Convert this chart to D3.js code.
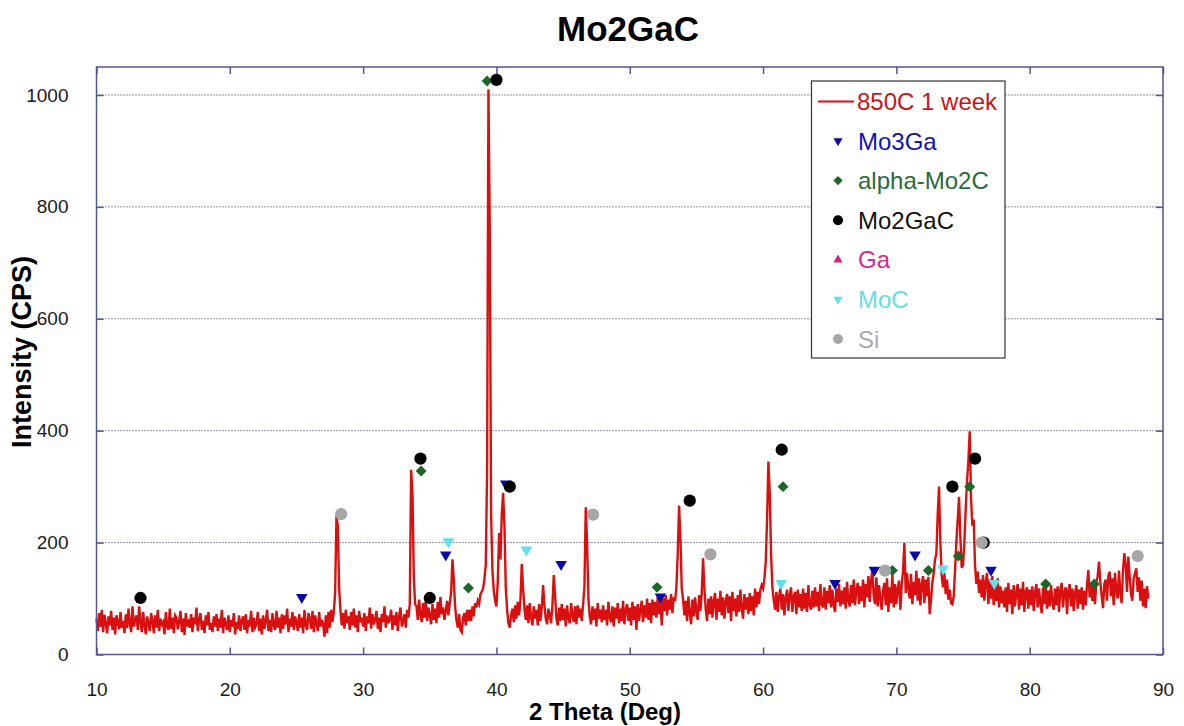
<!DOCTYPE html>
<html>
<head>
<meta charset="utf-8">
<script src="https://cdn.jsdelivr.net/npm/d3@7"></script>
<style>
  body { margin: 0; background: #fff; }
  text { font-family: "Liberation Sans", Arial, sans-serif; }
</style>
</head>
<body>
<svg width="1184" height="726"></svg>
<script>
// XRD scan, 2 theta from 10.0 deg in 0.1 deg steps (one row = one degree)
const thetaStart = 10, thetaStep = 0.1;
const cps = [
  64,42,74,50,80,40,71,56,38,68,
  52,78,44,66,36,70,58,45,76,48,
  60,38,72,47,82,55,40,86,50,62,
  70,44,86,58,40,76,52,36,68,56,
  42,74,60,38,70,48,80,42,64,54,
  58,36,76,50,44,82,46,66,38,70,
  66,45,60,78,40,64,35,74,50,58,
  48,72,40,66,54,84,42,62,74,44,
  60,38,70,52,76,44,56,40,68,50,
  72,42,64,48,80,38,66,54,44,70,
  40,62,50,74,36,58,46,70,42,60,
  68,44,72,38,62,50,78,40,66,48,
  54,76,42,64,36,70,46,60,80,42,
  62,40,74,52,44,78,48,66,38,72,
  46,70,54,82,40,64,50,76,44,68,
  58,42,72,48,66,38,80,52,44,74,
  64,46,78,40,70,56,42,76,50,62,
  54,32,70,38,76,48,80,58,76,110,
  247,230,120,78,52,74,46,80,56,68,
  44,76,52,82,48,70,40,78,58,66,
  50,74,42,68,56,84,46,72,54,62,
  78,46,66,40,72,58,86,48,70,56,
  64,80,44,70,52,76,42,68,84,50,
  58,72,48,80,66,90,330,290,140,90,
  86,62,98,70,58,92,66,100,60,84,
  70,54,90,62,82,56,94,66,103,72,
  84,62,78,96,70,92,110,170,135,85,
  62,48,72,44,40,66,74,52,80,60,
  80,60,86,68,92,84,96,90,108,112,
  118,135,160,330,1010,760,250,150,115,96,
  86,130,217,170,250,289,230,120,80,56,
  48,70,82,58,88,64,94,70,96,162,
  118,82,62,88,56,92,66,52,86,64,
  80,52,90,60,84,124,88,64,54,82,
  70,56,88,142,105,64,52,84,60,90,
  62,82,50,88,64,56,92,70,58,86,
  54,88,66,82,60,90,120,263,200,98,
  68,54,86,62,82,50,92,64,80,58,
  88,62,80,52,94,66,58,86,50,84,
  64,92,56,82,60,96,54,80,90,60,
  84,52,94,62,86,44,90,60,80,96,
  58,88,66,100,62,92,56,98,70,94,
  66,104,72,96,52,100,78,106,70,98,
  80,108,74,102,96,120,180,266,210,118,
  98,70,96,60,104,74,54,98,68,102,
  76,62,106,78,110,172,118,80,60,100,
  72,104,66,96,110,62,100,76,114,70,
  102,64,96,108,74,104,60,112,78,100,
  68,106,76,116,82,64,108,80,102,72,
  110,78,104,70,118,84,112,90,116,124,
  118,135,165,240,345,290,180,120,98,80,
  112,76,104,118,80,108,70,102,116,78,
  106,120,76,104,112,72,116,84,108,78,
  118,82,110,76,124,88,80,114,84,120,
  86,112,78,126,90,84,120,80,114,92,
  124,84,116,88,76,118,94,126,86,114,
  90,120,82,130,96,86,124,92,134,88,
  116,128,90,122,96,134,84,126,102,140,
  94,132,151,104,90,138,86,124,100,80,
  114,128,88,136,76,120,92,142,84,126,
  90,118,132,80,124,150,199,110,146,118,
  100,144,90,130,106,150,96,136,88,126,
  140,92,134,104,139,72,98,128,146,170,
  180,250,300,200,140,120,146,108,134,98,
  116,92,90,104,150,200,240,282,210,155,
  160,200,260,310,345,399,280,230,241,160,
  126,148,110,134,102,142,96,130,146,90,
  134,100,140,88,126,96,136,84,122,92,
  114,84,120,76,128,90,116,72,124,86,
  110,126,80,118,88,130,76,112,120,82,
  116,88,122,78,112,126,84,118,92,74,
  120,90,128,82,114,86,124,94,80,118,
  88,122,76,116,128,84,112,120,72,114,
  126,86,118,78,110,124,82,116,90,120,
  80,114,88,124,151,102,128,96,122,90,
  130,140,166,130,104,83,126,134,96,140,
  148,104,136,88,146,112,100,150,110,92,
  150,181,160,112,175,140,108,96,136,145,
  154,112,138,96,132,86,118,83,122,100
];

// reflection markers [2theta, cps]
const mo3Ga = [[25.4,102],[36.2,178],[40.7,305],[44.85,161],[52.3,103],[65.4,127],[68.35,151],[71.4,178],[77.1,151]];
const alphaMo2C = [[34.35,328],[37.9,119],[39.3,1025],[52.05,120],[61.5,300],[69.7,150],[72.4,150],[74.65,176],[75.5,300],[81.2,126],[84.85,126]];
const mo2GaC = [[13.3,101],[34.3,350],[35.0,101],[40.0,1027],[41.0,300],[54.5,275],[61.4,366],[74.2,300],[75.9,350],[76.55,200]];
const ga = [];
const moC = [[36.4,202],[42.25,187],[61.35,127],[73.5,153],[77.35,127]];
const si = [[28.35,251],[47.25,250],[56.05,179],[69.15,150],[76.4,200],[88.1,176]];

const xTicks = [10, 20, 30, 40, 50, 60, 70, 80, 90];
const yTicks = [0, 200, 400, 600, 800, 1000];

const scanLabel = "850C 1 week";
const phases = [
  { name: "Mo3Ga", data: mo3Ga, shape: "down", color: "#0b0ba8", text: "#1212b0" },
  { name: "alpha-Mo2C", data: alphaMo2C, shape: "diamond", color: "#1c6628", text: "#2a6a38" },
  { name: "Mo2GaC", data: mo2GaC, shape: "circle", color: "#000000", text: "#111111" },
  { name: "Ga", data: ga, shape: "up", color: "#e01c80", text: "#d8288a" },
  { name: "MoC", data: moC, shape: "down", color: "#5fe0ea", text: "#66dde2" },
  { name: "Si", data: si, shape: "circle", color: "#a6a6a6", text: "#aaaaaa" }
];

const scan = cps.map((v, i) => ({ theta: thetaStart + i * thetaStep, cps: v }));

const svg = d3.select("svg");
const plotLeft = 96.5, plotRight = 1163, plotTop = 67, plotBottom = 654.5;
const frameColor = "#545490";

const x = d3.scaleLinear().domain([10, 90]).range([plotLeft, plotRight]);
const y = d3.scaleLinear().domain([0, 1050]).range([plotBottom, plotTop]);

// dotted grid
svg.append("g").selectAll("line")
  .data(yTicks.filter(d => d > 0))
  .enter().append("line")
  .attr("x1", plotLeft).attr("x2", plotRight)
  .attr("y1", d => y(d)).attr("y2", d => y(d))
  .attr("stroke", "#2a2a5a")
  .attr("stroke-width", 1)
  .attr("stroke-dasharray", "1,2");

// axes with inside ticks
const xAxis = svg.append("g")
  .attr("transform", "translate(0," + plotBottom + ")")
  .call(d3.axisBottom(x).tickValues(xTicks).tickSizeInner(-7).tickSizeOuter(0).tickPadding(28));
const xTop = svg.append("g")
  .attr("transform", "translate(0," + plotTop + ")")
  .call(d3.axisTop(x).tickValues(xTicks).tickSizeInner(-7).tickSizeOuter(0).tickFormat(""));
const yAxis = svg.append("g")
  .attr("transform", "translate(" + plotLeft + ",0)")
  .call(d3.axisLeft(y).tickValues(yTicks).tickFormat(d3.format("d")).tickSizeInner(-7).tickSizeOuter(0).tickPadding(28));
const yRight = svg.append("g")
  .attr("transform", "translate(" + plotRight + ",0)")
  .call(d3.axisRight(y).tickValues(yTicks).tickSizeInner(-7).tickSizeOuter(0).tickFormat(""));

[xAxis, xTop, yAxis, yRight].forEach(g => {
  g.select(".domain").remove();
  g.selectAll(".tick line").attr("stroke", frameColor).attr("stroke-width", 1.5);
  g.selectAll(".tick text")
    .attr("fill", "#1a1a1a")
    .style("font-size", "19px")
    .style("font-family", "'Liberation Sans', Arial, sans-serif");
});

// the scan
const line = d3.line()
  .x(d => x(d.theta))
  .y(d => y(d.cps));

svg.append("path")
  .datum(scan)
  .attr("d", line)
  .attr("fill", "none")
  .attr("stroke", "#da1010")
  .attr("stroke-width", 2.4);

function symbolPath(shape, big) {
  if (shape === "circle") return d3.symbol().type(d3.symbolCircle).size(big ? 118 : 80)();
  if (shape === "diamond") return d3.symbol().type(d3.symbolSquare).size(big ? 60 : 42)();
  return d3.symbol().type(d3.symbolTriangle).size(big ? 58 : 36)();
}
function symbolRotate(shape) {
  if (shape === "diamond") return " rotate(45)";
  if (shape === "down") return " rotate(180)";
  return "";
}

phases.forEach(p => {
  svg.append("g").selectAll("path")
    .data(p.data)
    .enter().append("path")
    .attr("d", symbolPath(p.shape, true))
    .attr("transform", d => "translate(" + x(d[0]) + "," + y(d[1]) + ")" + symbolRotate(p.shape))
    .attr("fill", p.color);
});

// frame
svg.append("rect")
  .attr("x", plotLeft).attr("y", plotTop)
  .attr("width", plotRight - plotLeft).attr("height", plotBottom - plotTop)
  .attr("fill", "none")
  .attr("stroke", frameColor)
  .attr("stroke-width", 1.5);

// legend
const legend = svg.append("g");
legend.append("rect")
  .attr("x", 811.5).attr("y", 81)
  .attr("width", 193.5).attr("height", 277)
  .attr("fill", "#fff")
  .attr("stroke", "#333")
  .attr("stroke-width", 1.2);

legend.append("line")
  .attr("x1", 818).attr("x2", 854)
  .attr("y1", 101.5).attr("y2", 101.5)
  .attr("stroke", "#da1010").attr("stroke-width", 2);
legend.append("text")
  .attr("x", 857).attr("y", 101.5).attr("dy", "0.36em")
  .attr("fill", "#cc1414")
  .style("font-size", "24px")
  .text(scanLabel);

phases.forEach((p, i) => {
  const cy = 141 + i * 39.6;
  legend.append("path")
    .attr("d", symbolPath(p.shape, false))
    .attr("transform", "translate(838," + cy + ")" + symbolRotate(p.shape))
    .attr("fill", p.color);
  legend.append("text")
    .attr("x", 858).attr("y", cy).attr("dy", "0.36em")
    .attr("fill", p.text)
    .style("font-size", "24px")
    .text(p.name);
});

// titles
svg.append("text")
  .attr("x", 628).attr("y", 41)
  .attr("text-anchor", "middle")
  .style("font-size", "35px").style("font-weight", "bold")
  .text("Mo2GaC");

svg.append("text")
  .attr("x", 605).attr("y", 720)
  .attr("text-anchor", "middle")
  .style("font-size", "24px").style("font-weight", "bold")
  .text("2 Theta (Deg)");

svg.append("text")
  .attr("transform", "translate(31,352) rotate(-90)")
  .attr("text-anchor", "middle")
  .style("font-size", "27px").style("font-weight", "bold")
  .text("Intensity (CPS)");
</script>
</body>
</html>
